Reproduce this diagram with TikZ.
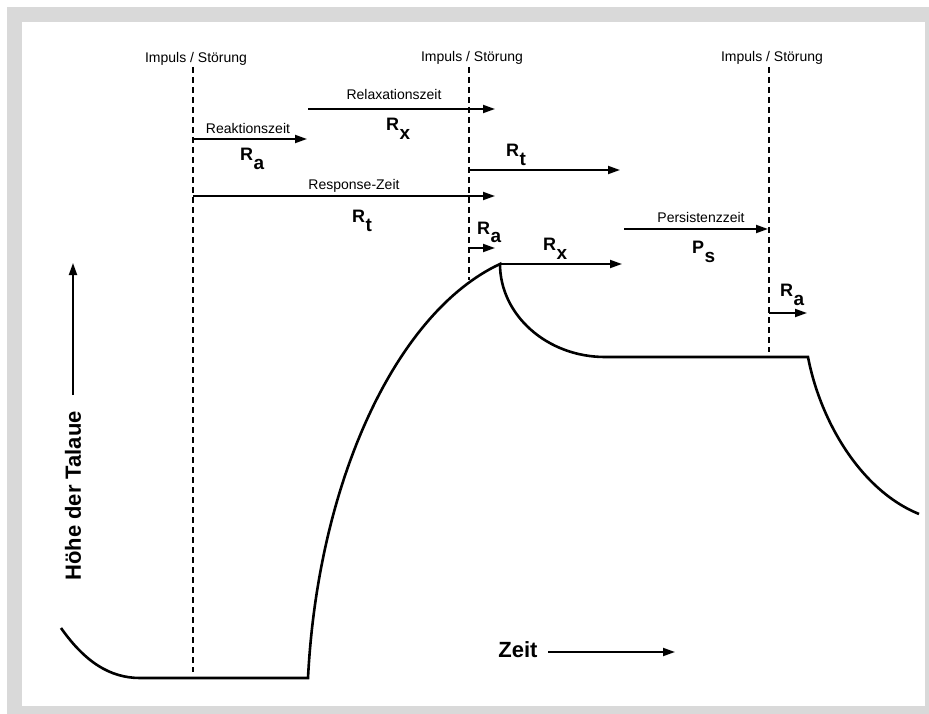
\documentclass[tikz,border=0pt]{standalone}
\usepackage{fontspec}
\setmainfont{Liberation Sans}
\usetikzlibrary{arrows.meta,positioning}
\definecolor{framegrey}{HTML}{D9D9D9}
\definecolor{ink}{HTML}{000000}
\newcommand{\rsym}[2]{{\bfseries\fontsize{18}{18}\selectfont #1\kern0.5pt\raisebox{-9pt}{\fontsize{19}{19}\selectfont #2}}}
\tikzset{
  phaselabel/.style={font=\fontsize{14}{14}\selectfont, inner sep=0pt, anchor=base},
  symlabel/.style={inner sep=0pt, anchor=base west},
  axislabel/.style={font=\bfseries\fontsize{22}{22}\selectfont, inner sep=0pt},
  timearrow/.style={-{Triangle[length=12pt,width=8pt]}, line width=1.9pt, color=ink},
  impulsline/.style={line width=1.1pt, dash pattern=on 6pt off 4pt, color=ink},
  levelcurve/.style={line width=2.6pt, line join=miter, color=ink},
}

\begin{document}
\begin{tikzpicture}[x=1pt, y=-1pt]
% frame
\fill[white] (0,0) rectangle (929,714);
\fill[framegrey] (7,7) rectangle (929,714);
\fill[white] (22,22) rectangle (925,706);
\useasboundingbox (0,0) rectangle (929,714);

% impulse lines
\node[phaselabel] (imp1) at (196,63) {Impuls / Störung};
\node[phaselabel] (imp2) at (472,62) {Impuls / Störung};
\node[phaselabel] (imp3) at (772,62) {Impuls / Störung};
\coordinate (i1a) at (193,67);  \coordinate (i1b) at (193,672);
\coordinate (i2a) at (469,67);  \coordinate (i2b) at (469,280);
\coordinate (i3a) at (769,67);  \coordinate (i3b) at (769,352);
\draw[impulsline] (i1a) -- (i1b);
\draw[impulsline] (i2a) -- (i2b);
\draw[impulsline] (i3a) -- (i3b);

% curve
\coordinate (peak) at (500,264);
\coordinate (rise) at (308,678);
\coordinate (fall) at (808,357);
\draw[levelcurve] (61,628) .. controls (85,662) and (110,678) .. (140,678)
  -- (rise) .. controls (318,480) and (397,312) .. (peak)
  .. controls (500,315) and (547,357) .. (605,357)
  -- (fall) .. controls (820,420) and (860,490) .. (919,514);

% phase arrows
\coordinate (ra1e) at (307,139);
\coordinate (rx1s) at (308,109); \coordinate (rx1e) at (495,109);
\coordinate (rt1s) at (193,196); \coordinate (rt1e) at (495,196);
\coordinate (rt2s) at (469,170); \coordinate (rt2e) at (620,170);
\coordinate (ra2s) at (469,248); \coordinate (ra2e) at (495,248);
\coordinate (rx2e) at (622,264);
\coordinate (pss) at (624,229);  \coordinate (pse) at (768,229);
\coordinate (ra3s) at (769,313); \coordinate (ra3e) at (807,313);
\draw[timearrow] (i1a |- ra1e) -- (ra1e);
\draw[timearrow] (rx1s) -- (rx1e);
\draw[timearrow] (rt1s) -- (rt1e);
\draw[timearrow] (rt2s) -- (rt2e);
\draw[timearrow] (ra2s) -- (ra2e);
\draw[timearrow] (peak) -- (rx2e);
\draw[timearrow] (pss) -- (pse);
\draw[timearrow] (ra3s) -- (ra3e);

% phase labels
\node[phaselabel] (reak) at (248,134) {Reaktionszeit};
\node[phaselabel] (relax) at (394,100) {Relaxationszeit};
\node[phaselabel] (resp) at (354,190) {Response-Zeit};
\node[phaselabel] (pers) at (701,223) {Persistenzzeit};
\node[symlabel] (rx1) at (386,131) {\rsym{R}{x}};
\node[symlabel] (ra1) at (240,161) {\rsym{R}{a}};
\node[symlabel] (rt1) at (352,223) {\rsym{R}{t}};
\node[symlabel] (rt2) at (506,157) {\rsym{R}{t}};
\node[symlabel] (ra2) at (477,234) {\rsym{R}{a}};
\node[symlabel] (rx2) at (543,251) {\rsym{R}{x}};
\node[symlabel] (ps) at (692,254) {\rsym{P}{s}};
\node[symlabel] (ra3) at (780,296) {\rsym{R}{a}};

% axes
\node[axislabel, rotate=90] (yax) at (73,496) {Höhe der Talaue};
\node[axislabel] (xax) at (518,650) {Zeit};
\coordinate (ytip) at (73,263);
\coordinate (xtip) at (675,652);
\draw[timearrow] (yax.east |- 0,395) -- (ytip);
\draw[timearrow] (548,652) -- (xtip);
\end{tikzpicture}
\end{document}
